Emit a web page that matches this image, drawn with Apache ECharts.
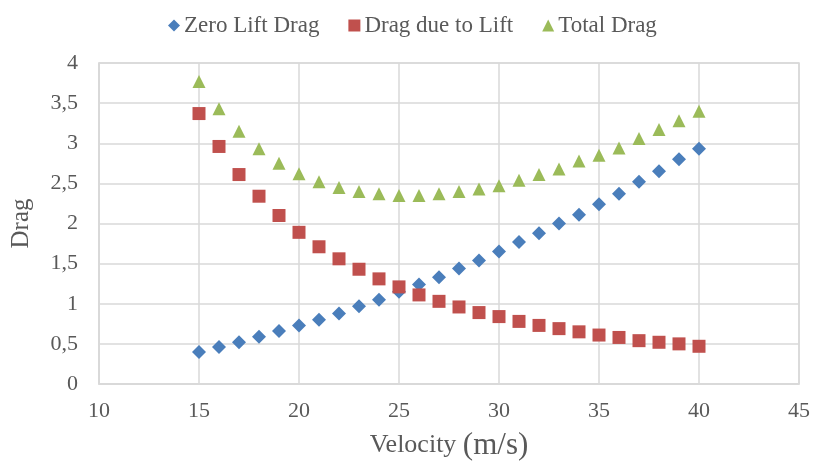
<!DOCTYPE html>
<html>
<head>
    <meta charset="UTF-8">
    <title>Drag vs Velocity</title>
    <script src="https://cdn.jsdelivr.net/npm/echarts@6/dist/echarts.min.js"></script>
</head>
<body style="margin:0">
    <div id="main" style="width: 814px; height: 466px;"></div>
    <script>
        var velocity = [15, 16, 17, 18, 19, 20, 21, 22, 23, 24, 25, 26, 27, 28, 29, 30, 31, 32, 33, 34, 35, 36, 37, 38, 39, 40];
        var zeroLiftDrag = [0.40, 0.46, 0.52, 0.59, 0.66, 0.73, 0.80, 0.88, 0.97, 1.05, 1.15, 1.24, 1.33, 1.44, 1.54, 1.65,
            1.77, 1.88, 2.00, 2.11, 2.24, 2.37, 2.52, 2.65, 2.80, 2.93];
        var dragDueToLift = [3.37, 2.96, 2.61, 2.34, 2.10, 1.89, 1.71, 1.56, 1.43, 1.31, 1.21, 1.11, 1.03, 0.96, 0.89, 0.84,
            0.78, 0.73, 0.69, 0.65, 0.61, 0.58, 0.54, 0.52, 0.50, 0.47];
        var totalDrag = [3.77, 3.43, 3.15, 2.93, 2.75, 2.62, 2.52, 2.45, 2.40, 2.37, 2.35, 2.35, 2.37, 2.40, 2.43, 2.47,
            2.54, 2.61, 2.68, 2.78, 2.85, 2.94, 3.06, 3.17, 3.28, 3.40];

        function pairs(ys) {
            return velocity.map(function (v, i) { return [v, ys[i]]; });
        }

        var font = 'Liberation Serif';
        var textColor = '#595959';
        var gridColor = '#d9d9d9';

        var myChart = echarts.init(document.getElementById('main'));
        var option = {
            backgroundColor: '#fff',
            animation: false,
            textStyle: { fontFamily: font },
            legend: {
                top: 9,
                left: 163,
                itemGap: 29,
                itemWidth: 12,
                itemHeight: 12,
                textStyle: { fontFamily: font, fontSize: 23, color: textColor, padding: [0, 0, 0, -1] },
                data: ['Zero Lift Drag', 'Drag due to Lift', 'Total Drag']
            },
            grid: {
                left: 99,
                right: 15,
                top: 63,
                bottom: 81,
                show: true,
                borderColor: gridColor,
                borderWidth: 1.5
            },
            xAxis: {
                type: 'value',
                min: 10,
                max: 45,
                interval: 5,
                name: '{a|Velocity }{b|(m/s)}',
                nameLocation: 'middle',
                nameGap: 46,
                nameTextStyle: {
                    rich: {
                        a: { fontFamily: font, fontSize: 26, color: textColor },
                        b: { fontFamily: font, fontSize: 31, color: textColor }
                    }
                },
                axisLine: { lineStyle: { color: gridColor, width: 1.5 } },
                axisTick: { show: false },
                axisLabel: { fontFamily: font, fontSize: 22, color: textColor, margin: 16 },
                splitLine: { lineStyle: { color: gridColor, width: 1.5 } }
            },
            yAxis: {
                type: 'value',
                min: 0,
                max: 4,
                interval: 0.5,
                name: 'Drag',
                nameLocation: 'middle',
                nameGap: 65,
                nameRotate: 90,
                nameTextStyle: { fontFamily: font, fontSize: 25, color: textColor },
                axisLine: { show: true, lineStyle: { color: gridColor, width: 1.5 } },
                axisTick: { show: false },
                axisLabel: {
                    fontFamily: font, fontSize: 22, color: textColor, margin: 21,
                    formatter: function (v) { return String(v).replace('.', ','); }
                },
                splitLine: { lineStyle: { color: gridColor, width: 1.5 } }
            },
            series: [
                {
                    name: 'Zero Lift Drag',
                    type: 'scatter',
                    symbol: 'diamond',
                    symbolSize: 14,
                    itemStyle: { color: '#4A7EBB', opacity: 1 },
                    data: pairs(zeroLiftDrag)
                },
                {
                    name: 'Drag due to Lift',
                    type: 'scatter',
                    symbol: 'rect',
                    symbolSize: 13,
                    itemStyle: { color: '#C0504D', opacity: 1 },
                    data: pairs(dragDueToLift)
                },
                {
                    name: 'Total Drag',
                    type: 'scatter',
                    symbol: 'triangle',
                    symbolSize: 13,
                    itemStyle: { color: '#9BBB59', opacity: 1 },
                    data: pairs(totalDrag)
                }
            ]
        };

        myChart.setOption(option);
    </script>
</body>
</html>
